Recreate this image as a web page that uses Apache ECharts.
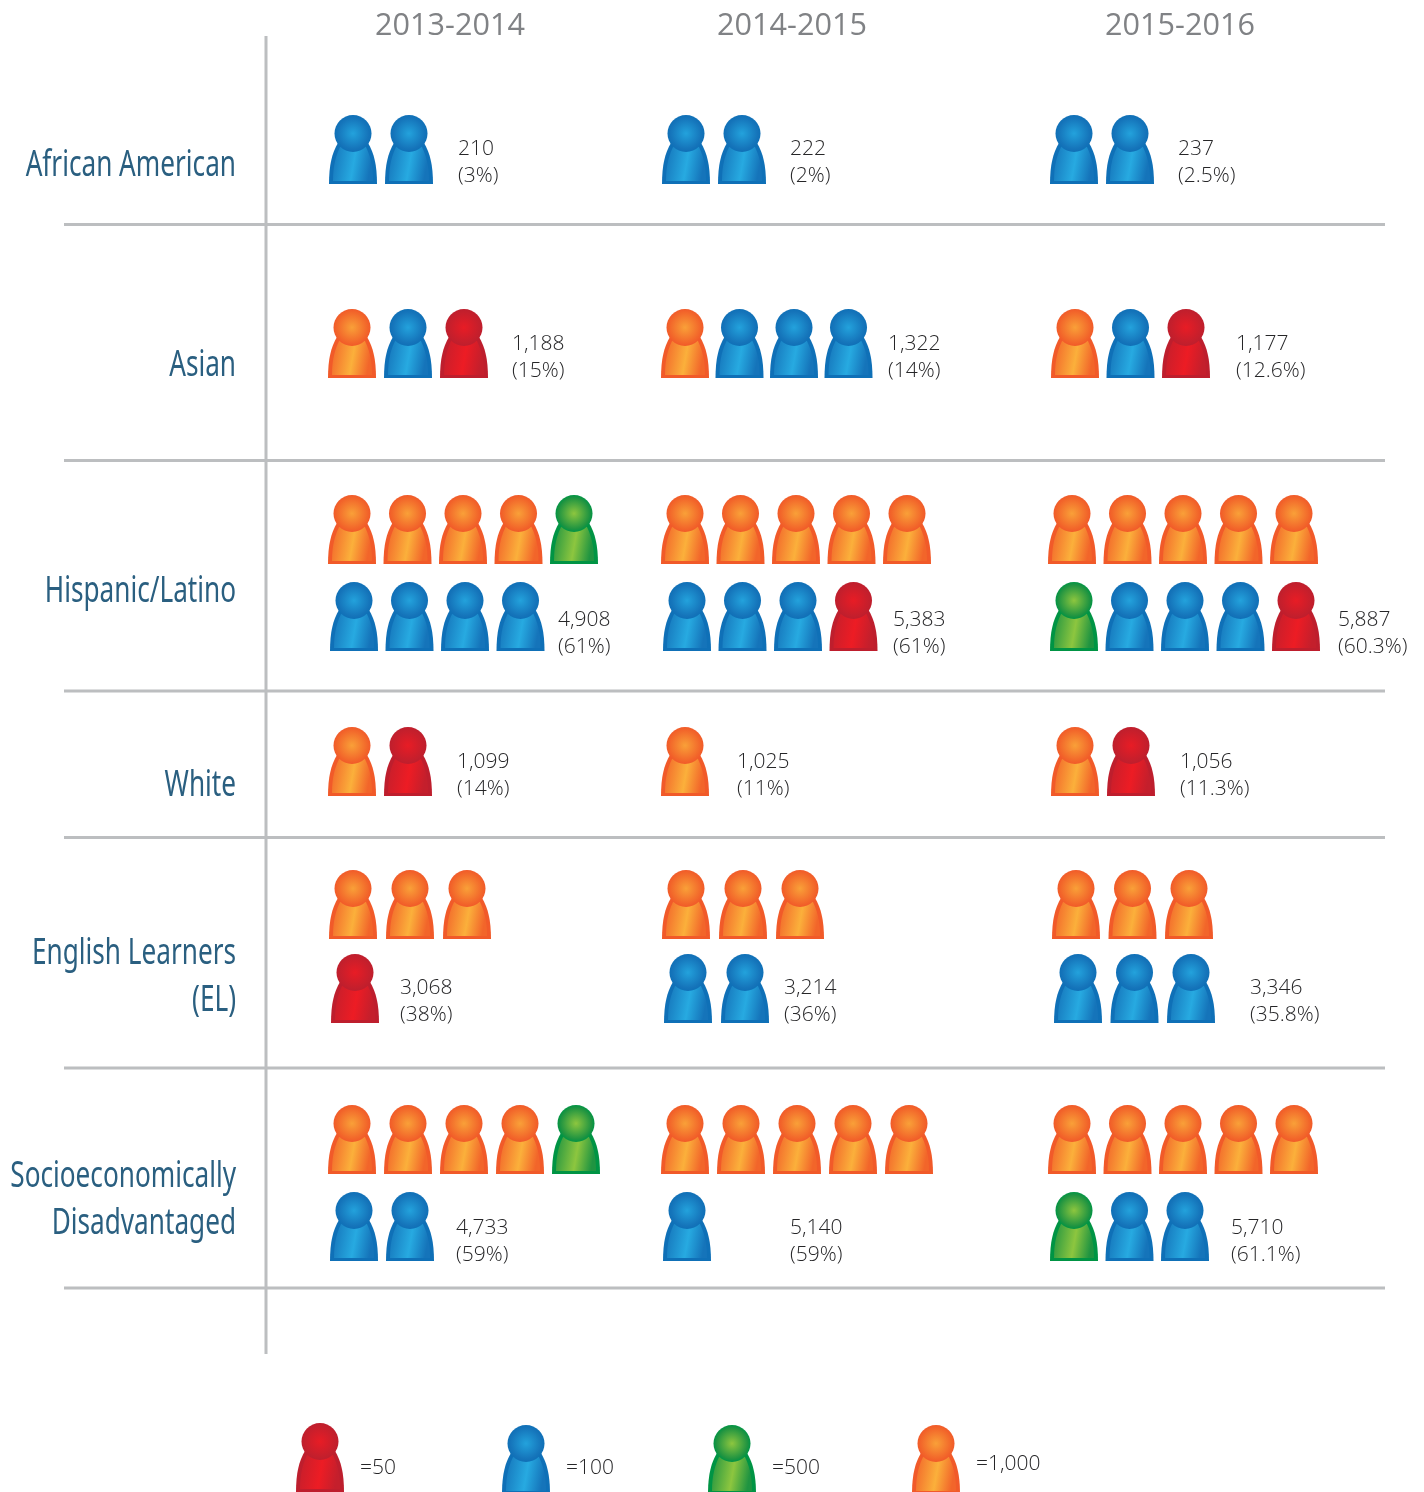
<!DOCTYPE html>
<html>
<head>
<meta charset="utf-8">
<style>
  html, body { margin: 0; padding: 0; background: #fff; }
  #chart { width: 1424px; height: 1492px; }
</style>
<script src="https://cdn.jsdelivr.net/npm/echarts@6/dist/echarts.min.js"></script>
</head>
<body>
<div id="chart"></div>
<script>
// data
const periods = ['2013-2014', '2014-2015', '2015-2016']
const groups = ['African American', 'Asian', 'Hispanic/Latino', 'White', 'English Learners\n(EL)', 'Socioeconomically\nDisadvantaged']
const counts = [
  ['210', '222', '237'],
  ['1,188', '1,322', '1,177'],
  ['4,908', '5,383', '5,887'],
  ['1,099', '1,025', '1,056'],
  ['3,068', '3,214', '3,346'],
  ['4,733', '5,140', '5,710']
]
const shares = [
  ['3%', '2%', '2.5%'],
  ['15%', '14%', '12.6%'],
  ['61%', '61%', '60.3%'],
  ['14%', '11%', '11.3%'],
  ['38%', '36%', '35.8%'],
  ['59%', '59%', '61.1%']
]
// R=50 B=100 G=500 O=1000, | starts the second line of icons
const icons = [
  ['BB', 'BB', 'BB'],
  ['OBR', 'OBBB', 'OBR'],
  ['OOOOG|BBBB', 'OOOOO|BBBR', 'OOOOO|GBBBR'],
  ['OR', 'O', 'OR'],
  ['OOO|R', 'OOO|BB', 'OOO|BBB'],
  ['OOOOG|BB', 'OOOOO|B', 'OOOOO|GBB']
]
const units = ['R', 'B', 'G', 'O']
const unitLabels = ['=50', '=100', '=500', '=1,000']

// layout, in axis units
const colStart = [329, 662, 1050]
const rowPitch = [
  [56, 56, 56], [56, 54.5, 55.5], [55.5, 55.5, 55.5],
  [56, 56, 56], [57, 57, 56.5], [56, 56, 55.5]
]
const lineBottom = [[184], [378], [564, 651], [796], [939, 1023], [1174, 1261]]
const lineOffset = [[0, 0], [-1, 0], [-1, 1], [-1, 0], [0, 2], [-1, 1]]
const colNudge = [
  [0, 0, 0], [0, 0, 2], [0, 0, -1], [0, 0, 2], [0, 0, 2], [0, 0, -1]
]
const labelX = [
  [458, 790, 1178], [512, 888, 1236], [558, 893, 1338],
  [457, 737, 1180], [400, 784, 1250], [456, 790, 1231]
]
const labelY = [149, 344, 620, 762, 988, 1228]
const groupLabelY = [165, 365, 591, 785, 953, 1176]
const yearX = [450, 792, 1180]
const ruleY = [224.5, 460.5, 691, 837.5, 1068, 1288]
const legendX = [296, 502, 708, 912]
const legendBottom = [1492, 1494, 1494, 1494]
const legendLabelX = [360, 566, 772, 976]
const legendLabelY = [1468, 1468, 1468, 1464]

const palette = {
  R: { edge: '#be1e2d', mid: '#c41f2c', light: '#ed1c24', head: '#e81c25' },
  B: { edge: '#0f70b7', mid: '#1574ba', light: '#27aae1', head: '#23a2dc' },
  G: { edge: '#009444', mid: '#1f9441', light: '#8dc63f', head: '#8dc63f' },
  O: { edge: '#f15a29', mid: '#f2652a', light: '#fbb03b', head: '#f9a038' }
}

const graphic = echarts.graphic
const bodyOuter = 'M0,69 C0,50 3,38 9,28 L39,28 C45,38 48,50 48,69 Z'
const bodyInner = 'M4,66 C4,50 7,40 12,30 L36,30 C41,40 44,50 44,66 Z'

function iconChildren(unit) {
  const c = palette[unit]
  return [
    { type: 'path', shape: { pathData: bodyOuter, x: 0, y: 28, width: 48, height: 41, layout: 'cover' }, style: { fill: c.edge } },
    {
      type: 'path',
      shape: { pathData: bodyInner, x: 4, y: 30, width: 40, height: 36, layout: 'cover' },
      style: {
        fill: new graphic.LinearGradient(0, 0, 1, 0.2, [
          { offset: 0, color: c.mid },
          { offset: 0.58, color: c.light },
          { offset: 1, color: c.mid }
        ])
      }
    },
    {
      type: 'circle',
      shape: { cx: 24, cy: 18.5, r: 18.5 },
      style: {
        fill: new graphic.RadialGradient(0.5, 0.5, 0.5, [
          { offset: 0, color: c.head },
          { offset: 0.84, color: c.mid },
          { offset: 1, color: c.edge }
        ])
      }
    }
  ]
}

// one entry per icon
const iconData = []
icons.forEach((row, r) => {
  row.forEach((cell, p) => {
    cell.split('|').forEach((line, l) => {
      line.split('').forEach((unit, slot) => {
        const x = colStart[p] + colNudge[r][p] + lineOffset[r][l] + slot * rowPitch[r][p]
        iconData.push([x, lineBottom[r][l], units.indexOf(unit)])
      })
    })
  })
})
units.forEach((u, i) => {
  iconData.push([legendX[i], legendBottom[i], i])
})

const textData = []
const valueFont = '300 21px "Open Sans", "Noto Sans", sans-serif'
const groupFont = '37px "Noto Sans", sans-serif'
const yearFont = '30.6px "Open Sans", "Noto Sans", sans-serif'
periods.forEach((p, i) => {
  textData.push({ value: [yearX[i], 26], text: p, font: yearFont, fill: '#808285', align: 'center' })
})
groups.forEach((g, r) => {
  g.split('\n').forEach((line, l) => {
    textData.push({ value: [236, groupLabelY[r] + l * 47.5], text: line, font: groupFont, fill: '#2a5f80', align: 'right', scaleX: 0.707 })
  })
  periods.forEach((p, i) => {
    textData.push({ value: [labelX[r][i], labelY[r]], text: counts[r][i], font: valueFont, fill: '#262628', align: 'left' })
    textData.push({ value: [labelX[r][i], labelY[r] + 27], text: '(' + shares[r][i] + ')', font: valueFont, fill: '#262628', align: 'left' })
  })
})
unitLabels.forEach((t, i) => {
  textData.push({ value: [legendLabelX[i], legendLabelY[i]], text: t, font: valueFont, fill: '#262628', align: 'left' })
})

const ruleData = ruleY.map(y => [64, y, 1385, y])
ruleData.push([266, 36, 266, 1354])

const chart = echarts.init(document.getElementById('chart'))
chart.setOption({
  animation: false,
  backgroundColor: '#fff',
  grid: { left: 0, right: 0, top: 0, bottom: 0 },
  xAxis: { type: 'value', min: 0, max: 1424, show: false },
  yAxis: { type: 'value', min: 0, max: 1492, inverse: true, show: false },
  series: [
    {
      name: 'rules',
      type: 'custom',
      silent: true,
      clip: false,
      data: ruleData,
      renderItem(params, api) {
        const a = api.coord([api.value(0), api.value(1)])
        const b = api.coord([api.value(2), api.value(3)])
        return {
          type: 'line',
          shape: { x1: a[0], y1: a[1], x2: b[0], y2: b[1] },
          style: { stroke: '#bcbec0', lineWidth: 3 }
        }
      }
    },
    {
      name: 'icons',
      type: 'custom',
      silent: true,
      clip: false,
      data: iconData,
      renderItem(params, api) {
        const p = api.coord([api.value(0), api.value(1)])
        return {
          type: 'group',
          x: p[0],
          y: p[1] - 69,
          children: iconChildren(units[api.value(2)])
        }
      }
    },
    {
      name: 'labels',
      type: 'custom',
      silent: true,
      clip: false,
      data: textData,
      renderItem(params, api) {
        const d = textData[params.dataIndex]
        const p = api.coord(d.value)
        return {
          type: 'text',
          x: p[0],
          y: p[1],
          scaleX: d.scaleX || 1,
          style: { text: d.text, font: d.font, fill: d.fill, align: d.align, verticalAlign: 'middle' }
        }
      }
    }
  ]
})
</script>
</body>
</html>
